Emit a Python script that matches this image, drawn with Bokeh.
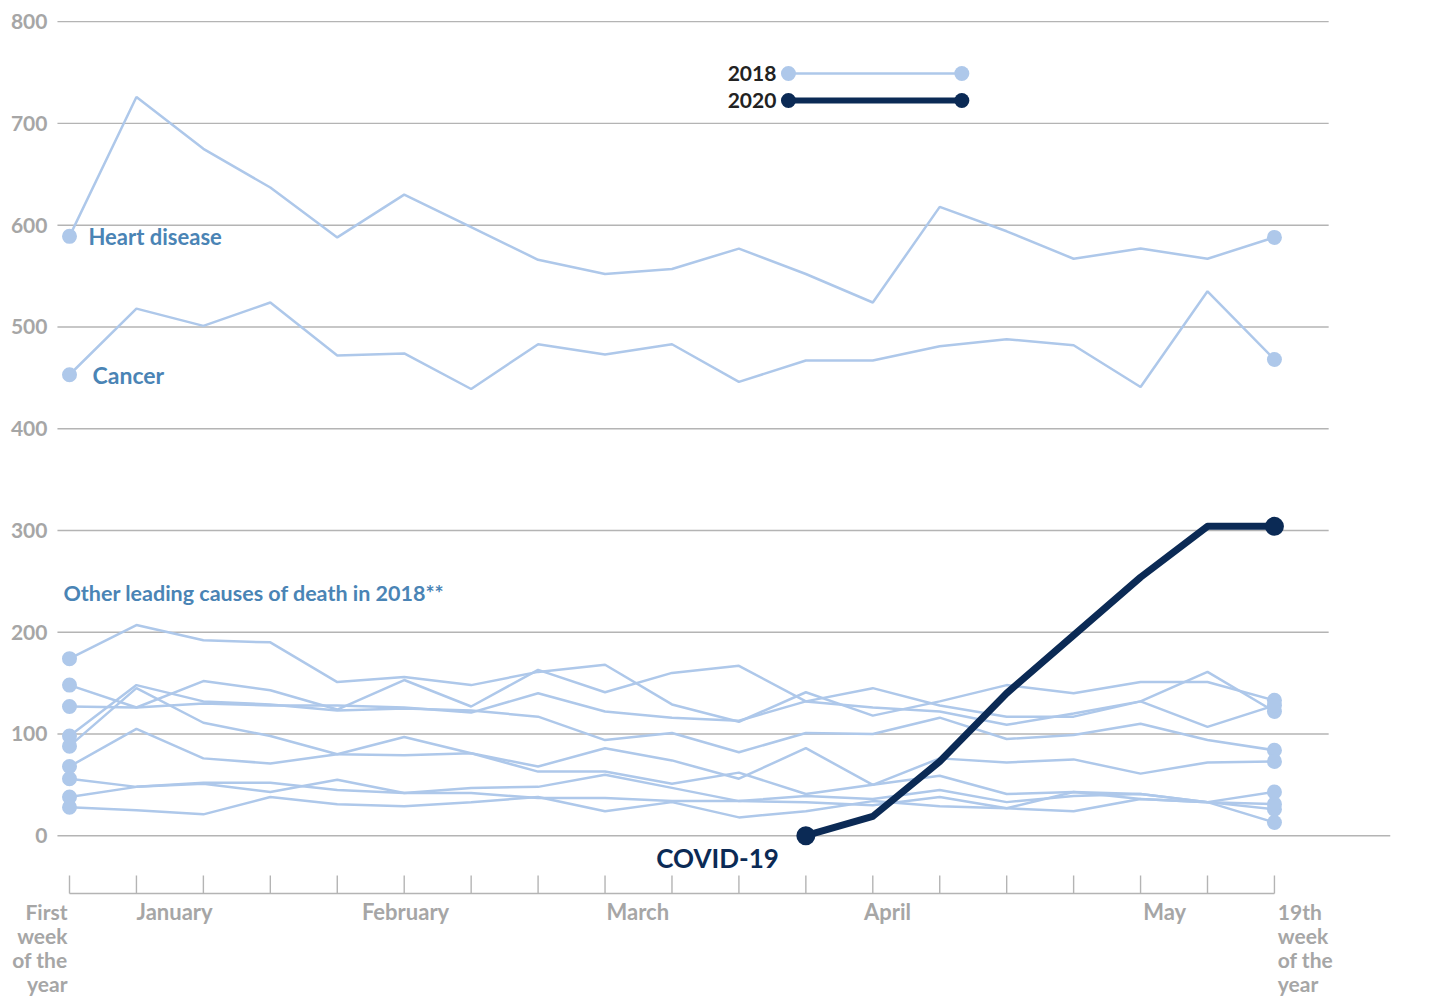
from bokeh.plotting import figure
from bokeh.models import Range1d
from bokeh.core.properties import value
from bokeh.embed import file_html
from bokeh.resources import INLINE

# ---------------- data ----------------
weeks = list(range(1, 20))
heart_disease = [589, 726, 675, 637, 588, 630, 598, 566, 552, 557, 577, 552, 524, 618, 594, 567, 577, 567, 588]
cancer = [453, 518, 501, 524, 472, 474, 439, 483, 473, 483, 446, 467, 467, 481, 488, 482, 441, 535, 468]
other_a = [174, 207, 192, 190, 151, 156, 148, 161, 168, 129, 112, 141, 118, 132, 148, 140, 151, 151, 133]
other_b = [148, 126, 152, 143, 124, 153, 127, 163, 141, 160, 167, 132, 145, 128, 117, 117, 132, 161, 122]
other_c = [127, 126, 130, 128, 128, 126, 121, 140, 122, 116, 113, 132, 126, 122, 109, 120, 132, 107, 128]
other_d = [98, 148, 132, 129, 123, 125, 123, 117, 94, 101, 82, 101, 100, 116, 95, 99, 110, 94, 84]
other_e = [88, 145, 111, 98, 80, 79, 81, 68, 86, 74, 56, 86, 50, 76, 72, 75, 61, 72, 73]
other_f = [68, 105, 76, 71, 80, 97, 81, 63, 63, 51, 62, 41, 50, 59, 41, 43, 41, 33, 43]
other_g = [56, 48, 52, 52, 45, 42, 47, 48, 60, 47, 34, 39, 36, 45, 33, 39, 41, 33, 26]
other_h = [38, 48, 51, 43, 55, 42, 42, 37, 37, 34, 34, 33, 30, 38, 27, 43, 36, 33, 31]
other_i = [28, 25, 21, 38, 31, 29, 33, 38, 24, 33, 18, 24, 34, 29, 27, 24, 36, 33, 13]
others = [other_a, other_b, other_c, other_d, other_e, other_f, other_g, other_h, other_i]

covid_weeks = [12, 13, 14, 15, 16, 17, 18, 19]
covid_2020 = [0, 19, 73, 140, 197, 254, 304, 304]

y_ticks = [0, 100, 200, 300, 400, 500, 600, 700, 800]
month_labels = ["January", "February", "March", "April", "May"]
month_pos = [2.57, 6.02, 9.49, 13.22, 17.36]
first_label = ["First", "week", "of the", "year"]
last_label = ["19th", "week", "of the", "year"]

# ---------------- styles ----------------
LIGHT = "#aec8ea"
NAVY = "#0b2a55"
LABEL_BLUE = "#4a84b5"
GREY_TXT = "#a6a6a6"
GRID = "#b4b4b4"
FONT = value("Lato")

p = figure(width=1450, height=997,
           x_range=Range1d(-0.0308, 21.63), y_range=Range1d(-159.0, 820.8),
           output_backend="svg", toolbar_location=None,
           x_axis_location=None, y_axis_location=None, min_border=0)
p.grid.visible = False
p.outline_line_color = None
p.background_fill_color = "white"

# gridlines
grid_x0 = [0.82] * len(y_ticks)
grid_x1 = [20.73 if t == 0 else 19.81 for t in y_ticks]
p.segment(x0=grid_x0, y0=y_ticks, x1=grid_x1, y1=y_ticks, line_color=GRID, line_width=1.4)

# y tick labels
p.text(x=[0.671] * len(y_ticks), y=y_ticks, text=[str(t) for t in y_ticks],
       text_align="right", text_baseline="middle", text_color=GREY_TXT,
       text_font=FONT, text_font_style="bold", text_font_size="21px")

# bottom axis
axis_y = -56.8
tick_top = -39.1
p.line(x=[weeks[0], weeks[-1]], y=[axis_y, axis_y], line_color=GRID, line_width=1.6)
p.segment(x0=weeks, y0=[axis_y] * len(weeks), x1=weeks, y1=[tick_top] * len(weeks),
          line_color=GRID, line_width=1.4)
p.text(x=month_pos, y=[-74.5] * len(month_pos), text=month_labels,
       text_align="center", text_baseline="middle", text_color=GREY_TXT,
       text_font=FONT, text_font_style="bold", text_font_size="22px")
line_ys = [-74.5, -98.5, -122.0, -145.5]
p.text(x=[0.97] * 4, y=line_ys, text=first_label, text_align="right", text_baseline="middle",
       text_color=GREY_TXT, text_font=FONT, text_font_style="bold", text_font_size="21px")
p.text(x=[19.05] * 4, y=line_ys, text=last_label, text_align="left", text_baseline="middle",
       text_color=GREY_TXT, text_font=FONT, text_font_style="bold", text_font_size="21px")

# 2018 series
for s in [heart_disease, cancer] + others:
    p.line(x=weeks, y=s, line_color=LIGHT, line_width=2.5)
    p.scatter(x=[weeks[0], weeks[-1]], y=[s[0], s[-1]], size=15, fill_color=LIGHT, line_color=None)

# 2020 COVID
p.line(x=covid_weeks, y=covid_2020, line_color=NAVY, line_width=7, line_join="round")
p.scatter(x=[covid_weeks[0], covid_weeks[-1]], y=[covid_2020[0], covid_2020[-1]], size=19,
          fill_color=NAVY, line_color=None)

# series labels
p.text(x=[1.284], y=[heart_disease[0]], text=["Heart disease"], text_baseline="middle",
       text_color=LABEL_BLUE, text_font=FONT, text_font_style="bold", text_font_size="22px")
p.text(x=[1.344], y=[cancer[0]], text=["Cancer"], text_baseline="middle",
       text_color=LABEL_BLUE, text_font=FONT, text_font_style="bold", text_font_size="23px")
p.text(x=[0.91], y=[239], text=["Other leading causes of death in 2018**"], text_baseline="middle",
       text_color=LABEL_BLUE, text_font=FONT, text_font_style="bold", text_font_size="21.5px")
p.text(x=[10.68], y=[-22], text=["COVID-19"], text_align="center", text_baseline="middle",
       text_color=NAVY, text_font=FONT, text_font_style="bold", text_font_size="26px")

# legend
leg_x = [11.74, 14.33]
p.line(x=leg_x, y=[749, 749], line_color=LIGHT, line_width=2.5)
p.scatter(x=leg_x, y=[749, 749], size=15, fill_color=LIGHT, line_color=None)
p.line(x=leg_x, y=[722.5, 722.5], line_color=NAVY, line_width=6)
p.scatter(x=leg_x, y=[722.5, 722.5], size=15, fill_color=NAVY, line_color=None)
p.text(x=[11.56, 11.56], y=[749, 722.5], text=["2018", "2020"], text_align="right",
       text_baseline="middle", text_color="#222222", text_font=FONT, text_font_style="bold",
       text_font_size="21px")

open("out.html", "w").write(file_html(p, INLINE))
